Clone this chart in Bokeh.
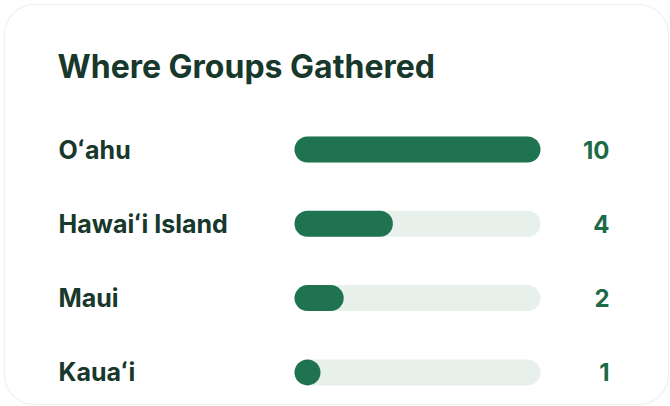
from bokeh.plotting import figure
from bokeh.models import Range1d, BoxAnnotation, ColumnDataSource
from bokeh.core.properties import value
from bokeh.embed import file_html
from bokeh.resources import INLINE

# ---- data ----
title = "Where Groups Gathered"
islands = ["Oʻahu", "Hawaiʻi Island", "Maui", "Kauaʻi"]
counts = [10, 4, 2, 1]

W, H = 670, 406
X0_PX, FULL_PX = 294, 246          # track start & length in pixels
ROW0_PX, ROW_STEP = 149, 74.3      # first row centre & spacing
CAP = 26                           # bar thickness in px
max_v = max(counts)
ppu = FULL_PX / max_v              # pixels per unit

def xd(px):
    return (px - X0_PX) / ppu

def yd(py):
    return (py - ROW0_PX) / ROW_STEP

p = figure(width=W, height=H, output_backend="svg", toolbar_location=None,
           x_range=Range1d(xd(0), xd(W)), y_range=Range1d(yd(H), yd(0)),
           min_border=0, outline_line_color=None)
p.axis.visible = False
p.grid.visible = False
p.background_fill_color = "white"
p.border_fill_color = "white"

# card
p.add_layout(BoxAnnotation(left=xd(4), right=xd(668), top=yd(4), bottom=yd(404),
                           fill_color="white", fill_alpha=1,
                           line_color="#d0d6d3", line_width=1.5, border_radius=30,
                           level="underlay"))

rows = list(range(len(islands)))
half = (CAP / 2) / ppu
src = ColumnDataSource(dict(
    y=rows, island=islands, count=[str(c) for c in counts],
    t0=[half] * len(rows), t1=[max_v - half] * len(rows),
    b1=[max(c - half, half) for c in counts],
    lx=[xd(58)] * len(rows), vx=[xd(609)] * len(rows),
))

p.segment(x0="t0", y0="y", x1="t1", y1="y", source=src,
          line_color="#e7f0eb", line_width=CAP, line_cap="round")
p.segment(x0="t0", y0="y", x1="b1", y1="y", source=src,
          line_color="#1f7350", line_width=CAP, line_cap="round")

p.text(x="lx", y="y", text="island", source=src,
       text_font=value("Inter"), text_font_style="bold", text_font_size="25px",
       text_color="#17382b", text_baseline="middle", text_align="left")
p.text(x="vx", y="y", text="count", source=src,
       text_font=value("Inter"), text_font_style="bold", text_font_size="24px",
       text_color="#1d6a47", text_baseline="middle", text_align="right")

p.text(x=[xd(57)], y=[yd(66)], text=[title],
       text_font=value("Inter"), text_font_style="bold", text_font_size="32px",
       text_color="#17382b", text_baseline="middle", text_align="left")

open("out.html", "w").write(file_html(p, INLINE))
